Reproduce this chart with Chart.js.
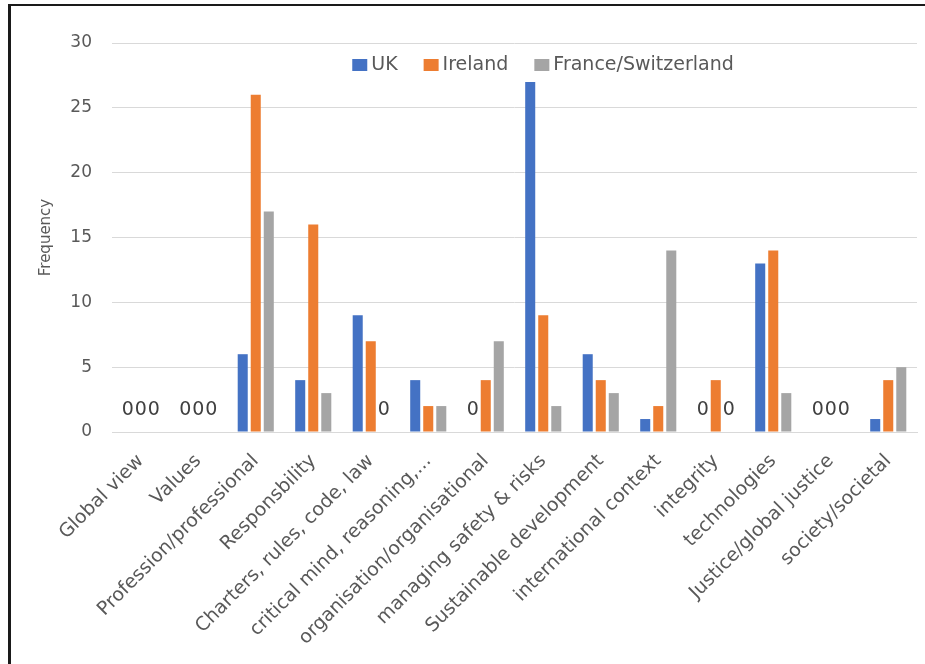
<!DOCTYPE html>
<html>
<head>
<meta charset="utf-8">
<title>Frequency of themes by country</title>
<script src="https://cdn.jsdelivr.net/npm/chart.js@4.4.1/dist/chart.umd.min.js"></script>
<style>
  html, body { margin: 0; padding: 0; background: #fff; }
  #wrap { position: relative; width: 925px; height: 664px; overflow: hidden; }
  #wrap canvas { position: absolute; left: 0; top: 0; }
  #frame {
    position: absolute; left: 8px; top: 4px; right: 0; bottom: 0;
    border-top: 2px solid #1a1a1a; border-left: 3px solid #1a1a1a;
    pointer-events: none;
  }
</style>
</head>
<body>
<div id="wrap">
  <canvas id="chart" width="925" height="664"></canvas>
  <div id="frame"></div>
</div>
<script>
// Themes along the x axis
const categories = [
  'Global view', 'Values', 'Profession/professional', 'Responsbility',
  'Charters, rules, code, law', 'critical mind, reasoning,...',
  'organisation/organisational', 'managing safety & risks',
  'Sustainable development', 'international context', 'integrity',
  'technologies', 'Justice/global justice', 'society/societal'
];

// Counts per country
const ukCounts          = [0, 0, 6, 4, 9, 4, 0, 27, 6, 1, 0, 13, 0, 1];
const irelandCounts     = [0, 0, 26, 16, 7, 2, 4, 9, 4, 2, 4, 14, 0, 4];
const franceSwissCounts = [0, 0, 17, 3, 0, 2, 7, 2, 3, 14, 0, 3, 0, 5];

const seriesNames = ['UK', 'Ireland', 'France/Switzerland'];

// Value axis
const yMin = 0;
const yMax = 30;
const yStep = 5;

const FONT = '"DejaVu Sans", sans-serif';
const TEXT = '#595959';

// Writes "0" above every bar whose value is zero
const zeroLabels = {
  id: 'zeroLabels',
  afterDatasetsDraw(chart) {
    const ctx = chart.ctx;
    ctx.save();
    ctx.font = '19px ' + FONT;
    ctx.fillStyle = '#404040';
    ctx.textAlign = 'center';
    ctx.textBaseline = 'middle';
    chart.data.datasets.forEach((ds, di) => {
      const meta = chart.getDatasetMeta(di);
      ds.data.forEach((v, i) => {
        if (v === 0) {
          const el = meta.data[i];
          ctx.fillText('0', el.x, el.y - 22);
        }
      });
    });
    ctx.restore();
  }
};

// Horizontal legend placed inside the plot, near the top
const insideLegend = {
  id: 'insideLegend',
  afterDraw(chart) {
    const ctx = chart.ctx;
    const boxW = 15, boxH = 12, boxGap = 4, itemGap = 26;
    ctx.save();
    ctx.font = '19px ' + FONT;
    const widths = chart.data.datasets.map(ds => ctx.measureText(ds.label).width);
    let total = 0;
    widths.forEach((w, i) => { total += boxW + boxGap + w + (i < widths.length - 1 ? itemGap : 0); });
    let x = 543 - total / 2;
    const cy = 65;
    ctx.textBaseline = 'middle';
    ctx.textAlign = 'left';
    chart.data.datasets.forEach((ds, i) => {
      ctx.fillStyle = ds.backgroundColor;
      ctx.fillRect(x, cy - boxH / 2, boxW, boxH);
      x += boxW + boxGap;
      ctx.fillStyle = TEXT;
      ctx.fillText(ds.label, x, cy);
      x += widths[i] + itemGap;
    });
    ctx.restore();
  }
};

const barStyle = { categoryPercentage: 0.68, barPercentage: 0.77, borderWidth: 0 };

new Chart(document.getElementById('chart'), {
  type: 'bar',
  data: {
    labels: categories,
    datasets: [
      Object.assign({ label: seriesNames[0], data: ukCounts, backgroundColor: '#4472C4' }, barStyle),
      Object.assign({ label: seriesNames[1], data: irelandCounts, backgroundColor: '#ED7D31' }, barStyle),
      Object.assign({ label: seriesNames[2], data: franceSwissCounts, backgroundColor: '#A5A5A5' }, barStyle)
    ]
  },
  options: {
    responsive: false,
    animation: false,
    devicePixelRatio: 1,
    layout: { padding: { left: 0, top: 43, right: 8, bottom: 0 } },
    plugins: {
      legend: { display: false },
      tooltip: { enabled: false }
    },
    scales: {
      x: {
        grid: { display: false, drawTicks: false },
        border: { display: true, color: '#d9d9d9', width: 1 },
        ticks: {
          autoSkip: false,
          maxRotation: 45,
          minRotation: 45,
          padding: 18,
          color: TEXT,
          font: { family: FONT, size: 19 }
        },
        afterFit(scale) { scale.height = 232; }
      },
      y: {
        min: yMin,
        max: yMax,
        grid: { color: '#d9d9d9', lineWidth: 1, drawTicks: false },
        border: { display: false },
        ticks: {
          stepSize: yStep,
          padding: 20,
          color: TEXT,
          font: { family: FONT, size: 17 }
        },
        title: {
          display: true,
          text: 'Frequency',
          color: TEXT,
          font: { family: FONT, size: 15 },
          padding: { top: 37, bottom: 0 }
        },
        afterFit(scale) { scale.width = 112; }
      }
    }
  },
  plugins: [zeroLabels, insideLegend]
});
</script>
</body>
</html>
